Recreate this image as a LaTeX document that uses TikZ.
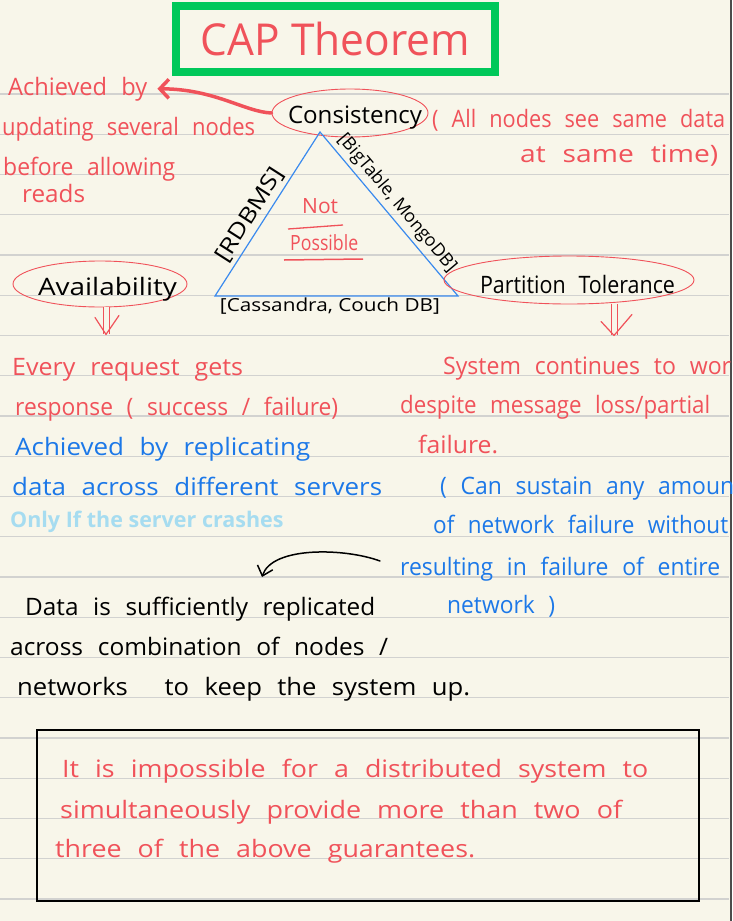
\documentclass[tikz,border=0pt]{standalone}
\usepackage{fontspec}
\setmainfont{Open Sans}
\usetikzlibrary{shapes.geometric,arrows.meta}
\definecolor{paper}{HTML}{F8F6EA}
\definecolor{rulegray}{HTML}{D2D2D0}
\definecolor{inkred}{HTML}{F0525A}
\definecolor{inkblue}{HTML}{1C78E8}
\definecolor{triblue}{HTML}{3A8AEE}
\definecolor{framegreen}{HTML}{00C85A}
\definecolor{skyblue}{HTML}{A6DCF0}
\newcommand{\fitw}[2]{\resizebox{#1pt}{\height}{#2}}
\newcommand{\inbubble}[4]{\makebox[0pt]{\hspace*{#1pt}\raisebox{-#2pt}[0pt][0pt]{\fitw{#3}{#4}}}}

\begin{document}
\begin{tikzpicture}[x=1pt,y=-1pt,
  hw/.style={anchor=base west, inner sep=0pt, font={\fontsize{24}{28}\selectfont\spaceskip=.6em\relax}},
  tag/.style={inner sep=4pt, font={\fontsize{18}{20}\selectfont}},
  bubble/.style={ellipse, draw=inkred, line width=0.9pt, inner sep=0pt, font={\fontsize{24}{28}\selectfont\spaceskip=.6em\relax}},
  ruled/.style={draw=rulegray, line width=1.3pt},
  fatarrow/.style={draw=inkred, line width=3.5pt, line cap=round, -{Straight Barb[length=9pt,width=19pt]}},
  thinarrow/.style={draw=black, line width=1.5pt, line cap=round, -{Straight Barb[length=9pt,width=16pt]}},
  dblshaft/.style={draw=inkred, line width=1pt, double=paper, double distance=5pt},
  vhead/.style={draw=inkred, line width=1.2pt, line cap=round, line join=round}]

\useasboundingbox (0,0) rectangle (732,921);
\fill[paper] (0,0) rectangle (732,921);
\foreach \k in {0,...,20}
  \draw[ruled] (0,94+40.25*\k) -- (729,94+40.25*\k);
\draw[black!70, line width=1.5pt] (731.2,0) -- (731.2,921);

\node[draw=framegreen, line width=8pt, minimum width=319pt, minimum height=65.5pt, inner sep=0pt, text=inkred, font=\fontsize{44}{50}\selectfont] (title) at (335.5,38.75) {\fitw{269}{CAP Theorem}};

\node[hw, text=inkred] (achby) at (8,95) {\fitw{139}{Achieved by}};
\node[hw, text=inkred] (upd) at (2,135) {\fitw{253}{updating several nodes}};
\node[hw, text=inkred] (bef) at (3,175) {\fitw{172}{before allowing}};
\node[hw, text=inkred] (reads) at (22,202) {\fitw{63}{reads}};

\node[bubble, minimum width=156pt, minimum height=48pt] (cons) at (350,113) {\inbubble{10}{10}{134}{Consistency}};
\node[hw, text=inkred] (allnodes) at (432,127) {\fitw{293}{( All nodes see same data}};
\node[hw, text=inkred] (sametime) at (520,162) {\fitw{198}{at same time)}};

\draw[fatarrow] (cons.west) .. controls (245,112) and (215,89) .. ([xshift=10pt]achby.east);

\coordinate (apex) at (320,132);
\coordinate (lft) at (215,296);
\coordinate (rgt) at (458,296);
\draw[triblue, line width=1.2pt, line join=miter] (apex) -- (lft) -- (rgt) -- cycle;
\path (lft) -- node[tag, sloped, above, pos=0.447, font=\fontsize{22}{24}\selectfont] (rdbms) {\fitw{107}{[RDBMS]}} (apex);
\path (apex) -- node[tag, sloped, above, pos=0.485] (bigtab) {\fitw{174}{[BigTable, MongoDB]}} (rgt);
\node[tag, below, inner sep=2pt] (cass) at (330,296) {\fitw{220}{[Cassandra, Couch DB]}};

\node[hw, text=inkred, font=\fontsize{21}{24}\selectfont] (notp) at (302,213) {Not};
\node[hw, text=inkred, font=\fontsize{21}{24}\selectfont] (possible) at (290,250) {\fitw{68}{Possible}};
\draw[inkred, line width=1.3pt] (288,229) -- (343,225);
\draw[inkred, line width=1.5pt] (284,260) -- (363,259);

\node[bubble, minimum width=174pt, minimum height=46pt] (avail) at (100,284) {\inbubble{15}{11}{139}{Availability}};
\node[bubble, minimum width=250pt, minimum height=48pt] (part) at (569,280) {\inbubble{17}{13}{195}{Partition Tolerance}};
\draw[dblshaft] ([xshift=6pt]avail.south) -- ++(0,27) coordinate (availtip);
\draw[vhead] (availtip) ++(-11,-17) -- (availtip) -- ++(13,-19);
\draw[dblshaft] ([xshift=45pt]part.south) -- ++(0,31) coordinate (parttip);
\draw[vhead] (parttip) ++(-13,-14) -- (parttip) -- ++(18,-21);

\node[hw, text=inkred] (every) at (12,375) {\fitw{231}{Every request gets}};
\node[hw, text=inkred] (resp) at (15,415) {\fitw{323}{response ( success / failure)}};
\node[hw, text=inkblue] (achrep) at (15,455) {\fitw{295}{Achieved by replicating}};
\node[hw, text=inkblue] (across) at (12,495) {\fitw{370}{data across different servers}};
\node[anchor=base west, inner sep=0pt, text=skyblue, font=\fontsize{21.5}{24}\selectfont\bfseries] (crash) at (10,527) {Only If the server crashes};

\coordinate (crashA) at (380,561);
\coordinate (crashB) at (262,577);
\draw[thinarrow] (crashA) .. controls (345,548) and (272,546) .. (crashB);

\node[hw] (suff) at (25,615) {\fitw{350}{Data is sufficiently replicated}};
\node[hw] (comb) at (10,655) {\fitw{378}{across combination of nodes /}};
\node[hw] (keep) at (17,695) {\fitw{453}{networks\hspace{20pt} to keep the system up.}};

\node[hw, text=inkred] (sys) at (443,374) {\fitw{300}{System continues to work}};
\node[hw, text=inkred] (despite) at (400,413) {\fitw{310}{despite message loss/partial}};
\node[hw, text=inkred] (fail) at (418,453) {\fitw{80}{failure.}};
\node[hw, text=inkblue] (sustain) at (440,494) {\fitw{302}{( Can sustain any amount}};
\node[hw, text=inkblue] (ofnet) at (433,533) {\fitw{295}{of network failure without}};
\node[hw, text=inkblue] (result) at (400,575) {\fitw{320}{resulting in failure of entire}};
\node[hw, text=inkblue] (netw) at (447,613) {\fitw{108}{network )}};

\node[draw, line width=2pt, minimum width=662pt, minimum height=171pt, inner sep=0pt] (verdict) at (368,815.5) {};
\node[hw, text=inkred] (imp1) at (62,777) {\fitw{586}{It is impossible for a distributed system to}};
\node[hw, text=inkred] (imp2) at (60,818) {\fitw{562}{simultaneously provide more than two of}};
\node[hw, text=inkred] (imp3) at (55,857) {\fitw{420}{three of the above guarantees.}};
\end{tikzpicture}
\end{document}
